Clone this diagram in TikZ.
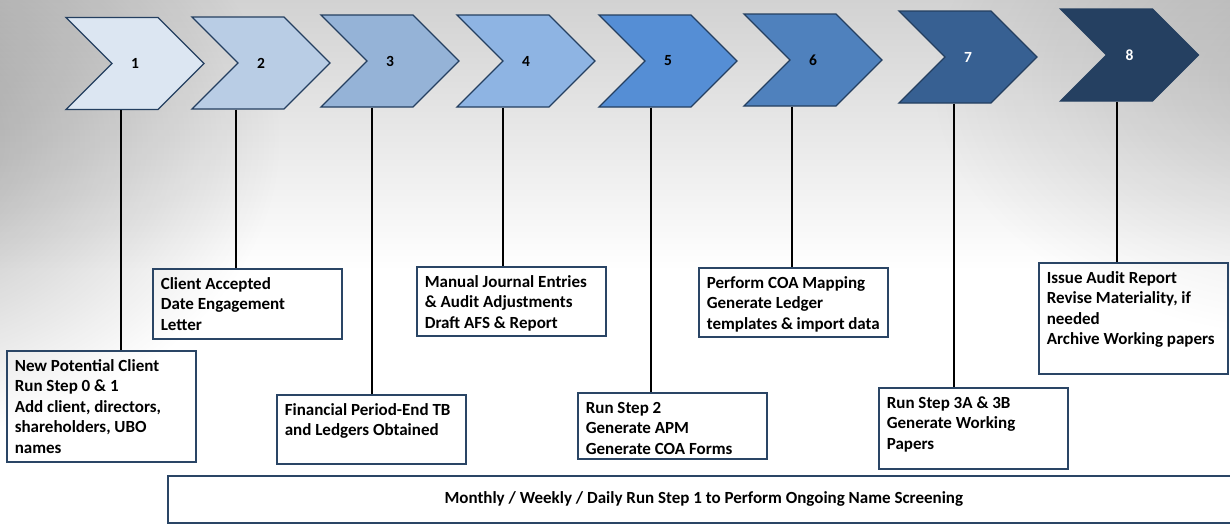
\documentclass[tikz,border=0pt]{standalone}
\usepackage{fontspec}
\setmainfont{Carlito}
\usetikzlibrary{shapes.symbols}
\usetikzlibrary{fadings}
\definecolor{bgTop}{RGB}{210,210,210}
\definecolor{edgeColor}{RGB}{36,63,96}
\definecolor{boxColor}{RGB}{42,69,101}
\definecolor{stepA}{RGB}{220,230,242}
\definecolor{stepB}{RGB}{185,205,229}
\definecolor{stepC}{RGB}{149,179,215}
\definecolor{stepD}{RGB}{142,180,227}
\definecolor{stepE}{RGB}{85,142,213}
\definecolor{stepF}{RGB}{79,129,189}
\definecolor{stepG}{RGB}{55,96,146}
\definecolor{stepH}{RGB}{37,64,97}
\tikzfading[name=softspot, inner color=transparent!0, outer color=transparent!100]
\newcommand{\notefont}{\fontsize{17pt}{20.4pt}\selectfont\bfseries}
\newcommand{\notetext}[2]{\parbox[t][#1][t]{173pt}{\raggedright\strut #2}}
\tikzset{
  mystep/.style={signal, signal from=west, signal to=east, signal pointer angle=90,
    draw=edgeColor, line width=1.3pt, minimum width=138pt, minimum height=92pt,
    inner sep=0pt, font=\fontsize{15.5pt}{18pt}\selectfont\bfseries},
  mynote/.style={draw=boxColor, line width=1.6pt, anchor=north west,
    inner xsep=8pt, inner ysep=6.5pt, font=\notefont},
  myband/.style={draw=boxColor, line width=1.6pt, anchor=north west, inner sep=0pt,
    minimum width=1072pt, minimum height=47pt, font=\notefont},
  mylink/.style={draw=black, line width=1.4pt}
}

\begin{document}
\begin{tikzpicture}[x=1pt, y=-1pt]
% background
\useasboundingbox (0,0) rectangle (1230,523);
\fill[white] (0,0) rectangle (1230,523);
\shade[top color=bgTop, bottom color=white] (0,0) rectangle (1230,270);
\fill[black, opacity=0.32, path fading=softspot] (-150,140) ellipse [x radius=430, y radius=310];
\fill[black, opacity=0.16, path fading=softspot] (1330,80) ellipse [x radius=400, y radius=260];
\fill[white] (0,496) circle (26);

% steps
\node[mystep, fill=stepA] (c1) at (135,63.5) {1};
\node[mystep, fill=stepB] (c2) at (261,63) {2};
\node[mystep, fill=stepC] (c3) at (390,61) {3};
\node[mystep, fill=stepD] (c4) at (526,61) {4};
\node[mystep, fill=stepE] (c5) at (668,61) {5};
\node[mystep, fill=stepF] (c6) at (813,60) {6};
\node[mystep, fill=stepG, text=white] (c7) at (968,57) {7};
\node[mystep, fill=stepH, text=white] (c8) at (1129.5,55) {8};

% notes
\node[mynote] (n1) at (6,350) {\notetext{98pt}{New Potential Client\\Run Step 0 \& 1\\Add client, directors,\\shareholders, UBO\\names}};
\node[mynote] (n2) at (152,268) {\notetext{57pt}{Client Accepted\\Date Engagement\\Letter}};
\node[mynote] (n3) at (276,394) {\notetext{56pt}{Financial Period-End TB\\and Ledgers Obtained}};
\node[mynote] (n4) at (416,266) {\notetext{56pt}{Manual Journal Entries\\\& Audit Adjustments\\Draft AFS \& Report}};
\node[mynote] (n5) at (577,392) {\notetext{53pt}{Run Step 2\\Generate APM\\Generate COA Forms}};
\node[mynote] (n6) at (698,267) {\notetext{56pt}{Perform COA Mapping\\Generate Ledger\\templates \& import data}};
\node[mynote] (n7) at (878,387) {\notetext{68pt}{Run Step 3A \& 3B\\Generate Working\\Papers}};
\node[mynote] (n8) at (1038,262) {\notetext{98pt}{Issue Audit Report\\Revise Materiality, if\\needed\\Archive Working papers}};
\node[myband] (band) at (167,475) {Monthly / Weekly / Daily Run Step 1 to Perform Ongoing Name Screening};

% links
\draw[mylink] ([xshift=-14pt]c1.south) -- ([xshift=-14pt]c1.south |- n1.north);
\draw[mylink] ([xshift=-25pt]c2.south) -- ([xshift=-25pt]c2.south |- n2.north);
\draw[mylink] ([xshift=-18pt]c3.south) -- ([xshift=-18pt]c3.south |- n3.north);
\draw[mylink] ([xshift=-23pt]c4.south) -- ([xshift=-23pt]c4.south |- n4.north);
\draw[mylink] ([xshift=-17pt]c5.south) -- ([xshift=-17pt]c5.south |- n5.north);
\draw[mylink] ([xshift=-21pt]c6.south) -- ([xshift=-21pt]c6.south |- n6.north);
\draw[mylink] ([xshift=-14pt]c7.south) -- ([xshift=-14pt]c7.south |- n7.north);
\draw[mylink] ([xshift=-12.5pt]c8.south) -- ([xshift=-12.5pt]c8.south |- n8.north);
\end{tikzpicture}
\end{document}
